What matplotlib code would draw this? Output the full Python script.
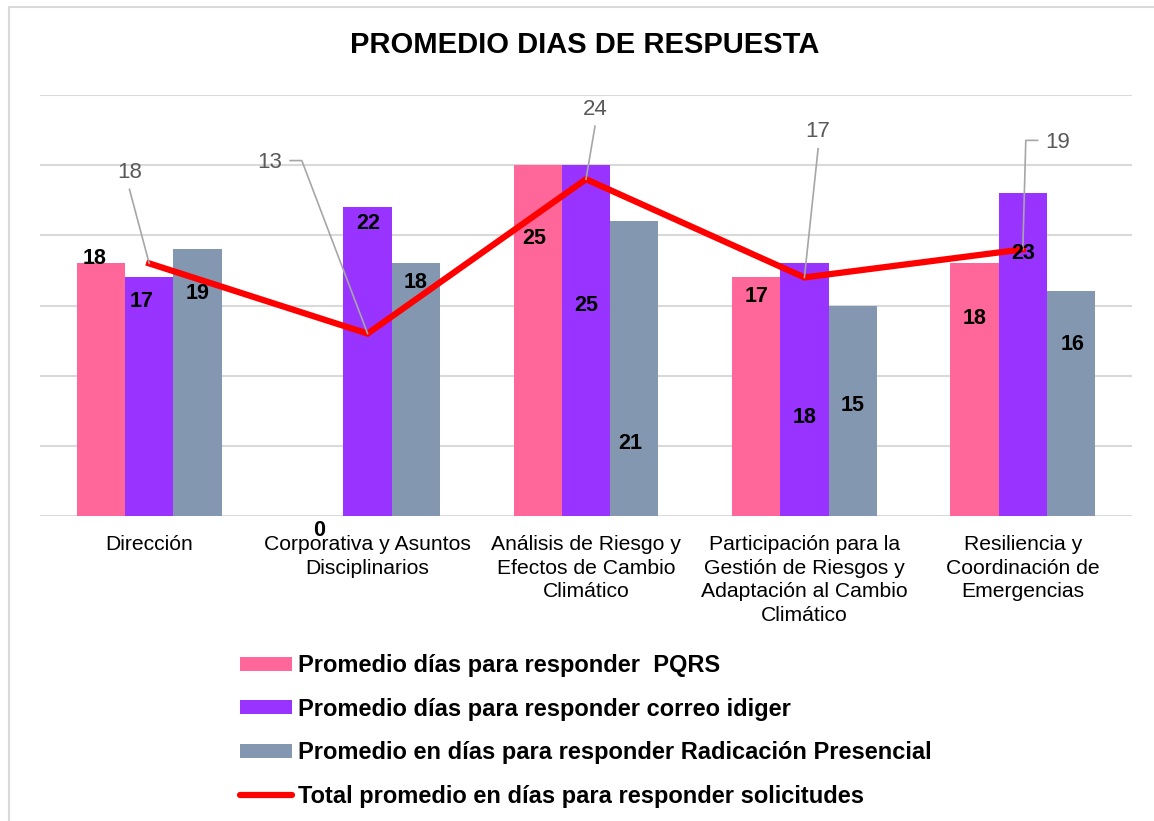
import numpy as np
import matplotlib.pyplot as plt
from matplotlib.patches import Patch, Rectangle
from matplotlib.lines import Line2D

plt.rcParams["font.family"] = ["Liberation Sans", "DejaVu Sans"]

CATEGORIES = [
    "Dirección",
    "Corporativa y Asuntos\nDisciplinarios",
    "Análisis de Riesgo y\nEfectos de Cambio\nClimático",
    "Participación para la\nGestión de Riesgos y\nAdaptación al Cambio\nClimático",
    "Resiliencia y\nCoordinación de\nEmergencias",
]
PQRS = [18, 0, 25, 17, 18]
CORREO = [17, 22, 25, 18, 23]
RADICACION = [19, 18, 21, 15, 16]
TOTAL = [18, 13, 24, 17, 19]

SERIES_NAMES = [
    "Promedio días para responder  PQRS",
    "Promedio días para responder correo idiger",
    "Promedio en días para responder Radicación Presencial",
    "Total promedio en días para responder solicitudes",
]
COLORS = ["#FF6699", "#9933FF", "#8497B0", "#FF0000"]

# where the data labels sit (y in data units, dx in pixels)
BAR_LABEL_Y = [
    [18.35, -1.0, 19.77, 15.65, 14.08],
    [15.29, 20.86, 15.01, 7.04, 18.71],
    [15.86, 16.66, 5.19, 7.89, 12.23],
]
BAR_LABEL_DX = [
    [-6, 0, -3, 0, 0],
    [-8, 1, 0, 0, 0],
    [0, 0, -4, 0, 1],
]
# line labels: text offset and leader points, in pixels from the point
LINE_TEXT_OFFSET = [(-20, 91), (-97.5, 171), (9, 70), (13, 146), (35, 107)]
LINE_LEADERS = [
    [(-19.7, 74)],
    [(-77.5, 173), (-65.8, 173)],
    [(9, 53)],
    [(13.7, 128.7)],
    [(14.7, 109), (3, 109)],
]

W, H = 1154, 821
fig = plt.figure(figsize=(W / 100, H / 100), dpi=100)
ax = fig.add_axes([40 / W, 1 - 516 / H, 1092 / W, (516 - 95) / H])

x = np.arange(len(CATEGORIES))
width = 0.221
bar_series = [PQRS, CORREO, RADICACION]
for k, vals in enumerate(bar_series):
    ax.bar(x + (k - 1) * width, vals, width, color=COLORS[k], zorder=2)

ax.plot(x, TOTAL, color=COLORS[3], lw=4.5, zorder=3, solid_joinstyle="miter")

ax.set_xlim(-0.5, len(CATEGORIES) - 0.5)
ax.set_ylim(0, 30)
ax.set_yticks(range(0, 31, 5))
ax.set_yticklabels([])
ax.yaxis.grid(True, color="#D9D9D9", lw=1.5)
ax.set_axisbelow(True)
for s in ax.spines.values():
    s.set_visible(False)
ax.tick_params(axis="y", length=0)
ax.tick_params(axis="x", length=0, pad=14)
ax.set_xticks(x)
ax.set_xticklabels(CATEGORIES, fontsize=15.2, linespacing=1.3)

# bar data labels
for k, vals in enumerate(bar_series):
    for i, v in enumerate(vals):
        ax.annotate(
            str(v),
            (x[i] + (k - 1) * width, BAR_LABEL_Y[k][i]),
            xytext=(BAR_LABEL_DX[k][i], 0),
            textcoords="offset pixels",
            ha="center",
            va="center",
            fontsize=15.5,
            fontweight="bold",
            zorder=6,
            annotation_clip=False,
        )

# line data labels with leader lines
for i, v in enumerate(TOTAL):
    p = ax.transData.transform((x[i], v))
    pts = [p + np.array(d) for d in LINE_LEADERS[i]] + [p]
    dpts = ax.transData.inverted().transform(np.array(pts))
    ax.plot(dpts[:, 0], dpts[:, 1], color="#A6A6A6", lw=1.2, zorder=5,
            clip_on=False)
    ax.annotate(
        str(v),
        (x[i], v),
        xytext=LINE_TEXT_OFFSET[i],
        textcoords="offset pixels",
        ha="center",
        va="center",
        fontsize=16,
        color="#595959",
        annotation_clip=False,
    )

fig.text(584.5 / W, 1 - 45 / H, "PROMEDIO DIAS DE RESPUESTA",
         ha="center", va="center", fontsize=21, fontweight="bold")

handles = [Patch(facecolor=c) for c in COLORS[:3]]
handles.append(Line2D([], [], color=COLORS[3], lw=4.5,
                      solid_capstyle="round"))
fig.legend(
    handles,
    SERIES_NAMES,
    loc="upper left",
    bbox_to_anchor=(240 / W, 1 - 654 / H),
    frameon=False,
    prop={"weight": "bold", "size": 17},
    handlelength=2.2,
    handleheight=0.55,
    handletextpad=0.25,
    labelspacing=0.87,
    borderpad=0,
    borderaxespad=0,
)

fig.add_artist(Rectangle((9 / W, -0.01), 1.0, 1 - 7 / H + 0.01,
                         transform=fig.transFigure, fill=False,
                         edgecolor="#D9D9D9", lw=1.5))

fig.savefig("out.png", dpi=100)
